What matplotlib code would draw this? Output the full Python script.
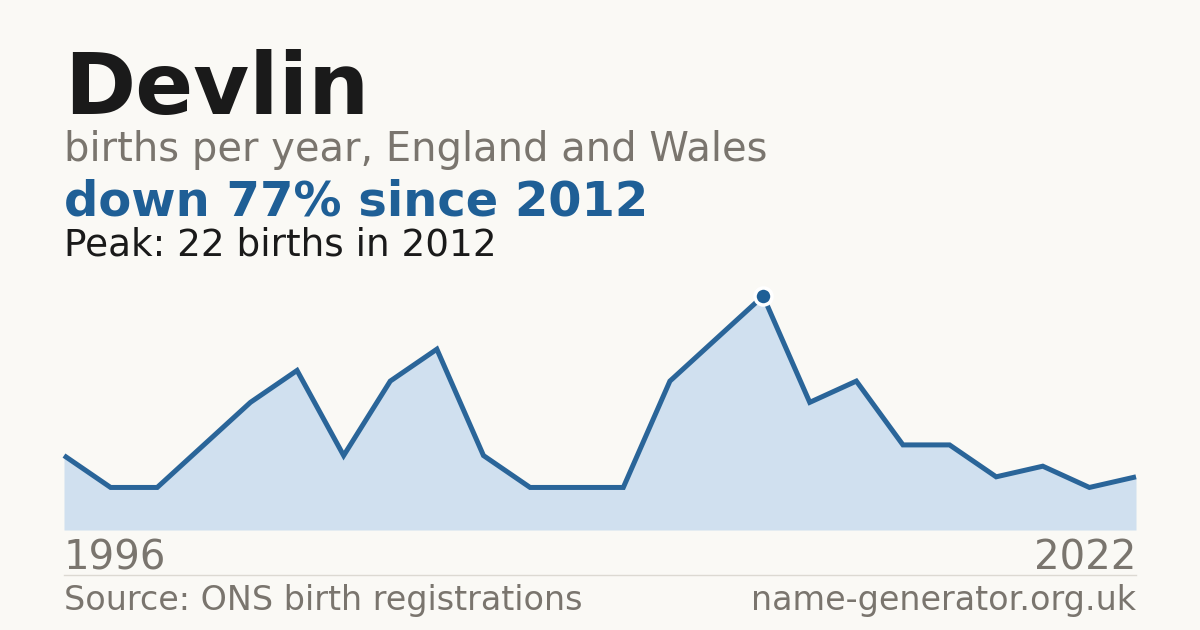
import matplotlib
matplotlib.use("Agg")
import matplotlib.pyplot as plt
import numpy as np

# Data (years with registrations shown; evenly spaced in the chart)
years = [1996, 1997, 1998, 1999, 2000, 2001, 2002, 2004, 2005, 2006, 2007, 2008,
         2009, 2010, 2011, 2012, 2013, 2015, 2016, 2017, 2018, 2020, 2021, 2022]
births = [7, 4, 4, 8, 12, 15, 7, 14, 17, 7, 4, 4,
          4, 14, 18, 22, 12, 14, 8, 8, 5, 6, 4, 5]

name = "Devlin"
subtitle = "births per year, England and Wales"
headline = "down 77% since 2012"
peak_text = "Peak: 22 births in 2012"
source = "Source: ONS birth registrations"
site = "name-generator.org.uk"

BG = "#faf9f5"
DARK = "#1a1a1a"
GRAY = "#7a756e"
BLUE = "#1f5f96"
FILL = "#d0e0ef"

W, H = 1200, 630
fig = plt.figure(figsize=(12, 6.3), dpi=100, facecolor=BG)

def fx(x):
    return x / W

def fy(y):
    return 1 - y / H

def px2pt(p):
    return p * 72 / 100

# axes: x from 64..1136, y baseline 530, top 270
ax_top = 270
ax = fig.add_axes([fx(64), fy(530), fx(1136 - 64), (530 - ax_top) / H])
ax.set_facecolor("none")
idx = np.arange(len(births))
peak_i = int(np.argmax(births))
ytop = max(births) / (530 - 296) * (530 - ax_top)
ax.set_xlim(0, len(births) - 1)
ax.set_ylim(0, ytop)
ax.fill_between(idx, births, 0, color=FILL, lw=0)
ax.plot(idx, births, color="#2a6599", lw=px2pt(5), solid_joinstyle="miter",
        solid_capstyle="butt", clip_on=False)
ax.plot([idx[peak_i]], [births[peak_i]], marker="o", ms=px2pt(17), color=BLUE,
        mec="white", mew=px2pt(3.5), clip_on=False, zorder=5)
ax.axis("off")

# texts
fig.text(fx(64), fy(114), name, fontsize=px2pt(85.7), fontweight="bold",
         color=DARK, va="baseline", ha="left")
fig.text(fx(64), fy(161), subtitle, fontsize=px2pt(40), color=GRAY,
         va="baseline", ha="left")
fig.text(fx(64), fy(215), headline, fontsize=px2pt(48), fontweight="bold",
         color=BLUE, va="baseline", ha="left")
fig.text(fx(64), fy(255), peak_text, fontsize=px2pt(37.4), color=DARK,
         va="baseline", ha="left")

fig.text(fx(64), fy(569), str(years[0]), fontsize=px2pt(40.2), color=GRAY,
         va="baseline", ha="left")
fig.text(fx(1136), fy(569), str(years[-1]), fontsize=px2pt(40.2), color=GRAY,
         va="baseline", ha="right")

fig.add_artist(plt.Line2D([fx(64), fx(1136)], [fy(574.5), fy(574.5)],
                          transform=fig.transFigure, color="#dcd9d2", lw=1))

fig.text(fx(64), fy(610), source, fontsize=px2pt(33.4), color=GRAY,
         va="baseline", ha="left")
fig.text(fx(1136), fy(610), site, fontsize=px2pt(33.4), color=GRAY,
         va="baseline", ha="right")

fig.savefig("out.png", dpi=100, facecolor=BG)
